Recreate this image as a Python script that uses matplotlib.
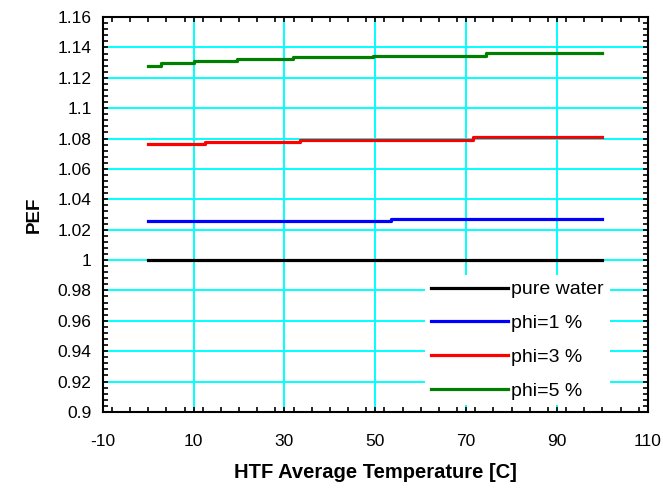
import numpy as np
import matplotlib.pyplot as plt
from matplotlib.ticker import MultipleLocator

plt.rcParams['font.family'] = ['Liberation Sans', 'DejaVu Sans']
plt.rcParams['axes.unicode_minus'] = False

# step data (x break points, value on each step)
x_water = [0, 100]
pef_water = [1.0]
x_phi1 = [0, 53.5, 100]
pef_phi1 = [1.0254, 1.0272]
x_phi3 = [0, 12.5, 33.4, 71.6, 100]
pef_phi3 = [1.0767, 1.0778, 1.0793, 1.0807]
x_phi5 = [0, 2.9, 10, 19.6, 31.8, 49.6, 74.3, 100]
pef_phi5 = [1.1277, 1.1299, 1.1312, 1.1325, 1.1335, 1.1346, 1.1361]

labels = ['pure water', 'phi=1 %', 'phi=3 %', 'phi=5 %']
colors = ['black', 'blue', 'red', 'green']

fig = plt.figure(figsize=(6.63, 4.88), dpi=100)
ax = fig.add_axes([0.155, 0.156, 0.822, 0.809])

series = [(x_water, pef_water), (x_phi1, pef_phi1), (x_phi3, pef_phi3), (x_phi5, pef_phi5)]
for (xs, vals), lab, c in zip(series, labels, colors):
    ax.step(xs, vals + [vals[-1]], where='post', color=c, lw=2.3, label=lab, zorder=3)

ax.set_xlim(-10, 110)
ax.set_ylim(0.9, 1.16)
ax.xaxis.set_minor_locator(MultipleLocator(4))
ax.yaxis.set_minor_locator(MultipleLocator(0.004))
ax.set_xticks(np.arange(-10, 111, 20))
yt = np.round(np.arange(0.9, 1.161, 0.02), 2)
ax.set_yticks(yt)
ax.set_yticklabels(['%g' % v for v in yt])

ax.grid(True, which='major', color='#00ffff', lw=1.4, zorder=1)
ax.tick_params(which='both', direction='in', top=True, right=True, length=3.5, width=1.2, labelsize=12.5)
ax.tick_params(axis='x', pad=16)
ax.tick_params(axis='y', pad=8)
for s in ax.spines.values():
    s.set_linewidth(1.5)

ax.set_xlabel('HTF Average Temperature [C]', fontsize=14.5, fontweight='bold', labelpad=10)
ax.set_ylabel('PEF', fontsize=13.5, fontweight='bold', labelpad=11)

leg = ax.legend(loc='upper left', bbox_to_anchor=(0.591, 0.347), borderaxespad=0,
                fontsize=14, handlelength=4, handletextpad=0.15, labelspacing=0.83,
                frameon=True, fancybox=False, framealpha=1, borderpad=0.3)
leg.get_frame().set_facecolor('white')
leg.get_frame().set_edgecolor('white')
leg.get_frame().set_linewidth(0)
leg.set_zorder(4)

plt.savefig('out.png', dpi=100)
